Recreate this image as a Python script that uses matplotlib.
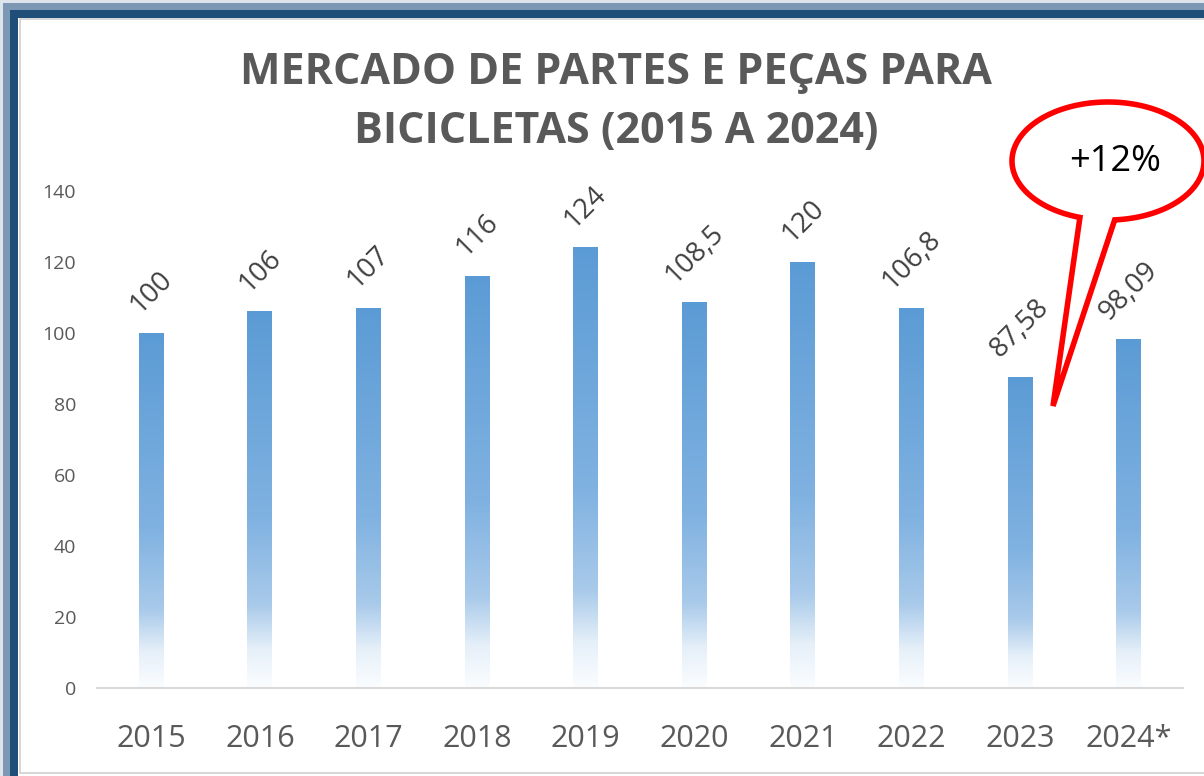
import numpy as np
import matplotlib.pyplot as plt
from matplotlib.patches import Rectangle, Polygon
from matplotlib.colors import LinearSegmentedColormap

years = ['2015', '2016', '2017', '2018', '2019', '2020', '2021', '2022', '2023', '2024*']
values = [100, 106, 107, 116, 124, 108.5, 120, 106.8, 87.58, 98.09]
labels = ['100', '106', '107', '116', '124', '108,5', '120', '106,8', '87,58', '98,09']
title = 'MERCADO DE PARTES E PEÇAS PARA\nBICICLETAS (2015 A 2024)'
callout_text = '+12%'

W, H = 1204, 776
plt.rcParams['font.family'] = ['Open Sans', 'DejaVu Sans']

fig = plt.figure(figsize=(W / 100, H / 100), dpi=100)
fig.patch.set_facecolor('white')


def px(x, y):
    # pixel (from top-left) -> figure fraction
    return x / W, 1 - y / H


# frame with soft shadow
for off, lw, col, a in [(6, 22, '#9fb4c8', 0.35), (10, 14, '#3b6690', 0.6), (14, 8, '#1f4e79', 1.0)]:
    x0, y0 = px(off, off)
    x1, y1 = px(W + 60, H + 60)
    fig.patches.append(Rectangle((x0, y1), x1 - x0, y0 - y1, transform=fig.transFigure,
                                 fill=False, edgecolor=col, lw=lw * 0.72, alpha=a, zorder=-3))
x0, y0 = px(20, 19)
x1, y1 = px(W + 10, 773)
fig.patches.append(Rectangle((x0, y1), x1 - x0, y0 - y1, transform=fig.transFigure,
                             facecolor='white', edgecolor='#d0d0d0', lw=1.2, zorder=-2))

ax = fig.add_axes([97 / W, 1 - 688 / H, (1183 - 97) / W, (688 - 191) / H])
ax.set_facecolor('none')
ax.set_zorder(1)

x = np.arange(len(years))
bars = ax.bar(x, values, width=0.23, color='none', edgecolor='none')

cmap = LinearSegmentedColormap.from_list('fade', [
    (0.0, '#fbfdff'), (0.1, '#e6f0f9'), (0.22, '#a9caea'),
    (0.45, '#80b2e1'), (1.0, '#5b9bd5')])
grad = np.linspace(0, 1, 256).reshape(-1, 1)
for b in bars:
    bx, bw, bh = b.get_x(), b.get_width(), b.get_height()
    ax.imshow(grad, cmap=cmap, origin='lower', aspect='auto',
              extent=(bx, bx + bw, 0, bh), zorder=2)

for xi, v, lab in zip(x, values, labels):
    ax.annotate(lab, (xi, v), xytext=(0, 10), textcoords='offset points',
                rotation=45, ha='center', va='bottom', fontsize=20, color='#404040')

ax.set_xlim(-0.5, len(years) - 0.5)
ax.set_ylim(0, 140)
ax.set_yticks(range(0, 141, 20))
ax.set_xticks(x)
ax.set_xticklabels(years)
ax.tick_params(axis='y', length=0, pad=15, labelsize=14, labelcolor='#595959')
ax.tick_params(axis='x', length=0, pad=26, labelsize=22, labelcolor='#595959')
for s in ['top', 'right', 'left']:
    ax.spines[s].set_visible(False)
ax.spines['bottom'].set_color('#d9d9d9')
ax.spines['bottom'].set_linewidth(1.5)

fig.text(616 / W, 1 - 102 / H, title, ha='center', va='center', fontsize=31,
         fontweight='bold', color='#595959', linespacing=1.5)

# speech bubble callout
cx, cy, a, b = 1108, 161, 96, 59
t1, t2 = np.deg2rad(107), np.deg2rad(86 + 360)
t = np.linspace(t1, t2, 200)
pts = [px(cx + a * np.cos(tt), cy + b * np.sin(tt)) for tt in t]
pts.append(px(1053, 406))
fig.patches.append(Polygon(pts, closed=True, transform=fig.transFigure,
                           facecolor='white', edgecolor='#ff0000', lw=4, zorder=5,
                           joinstyle='miter'))
fig.text(*px(1115, 162), callout_text, ha='center', va='center', fontsize=26,
         color='black', zorder=6)

fig.savefig('out.png', dpi=100)
